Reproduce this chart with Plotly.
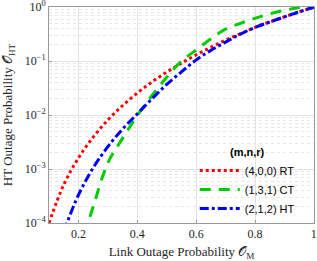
import plotly.graph_objects as go

# Data (x = link outage probability, y = HT outage probability)
rt_x = [0.1, 0.15, 0.2, 0.25, 0.3, 0.35, 0.4, 0.45, 0.5, 0.55, 0.6, 0.65, 0.7, 0.75, 0.8, 0.85, 0.9, 0.95, 1.0]
rt_y = [1e-4, 5.1e-4, 1.6e-3, 3.9e-3, 8.1e-3, 0.015, 0.0256, 0.041, 0.0625, 0.0915, 0.13, 0.18, 0.245, 0.32, 0.42, 0.53, 0.66, 0.815, 1.0]

ct_x = [0.22, 0.23, 0.25, 0.3, 0.35, 0.4, 0.45, 0.5, 0.55, 0.6, 0.65, 0.7, 0.75, 0.8, 0.85, 0.9, 0.95, 1.0]
ct_y = [6e-5, 9e-5, 2e-4, 1.3e-3, 3.7e-3, 0.0098, 0.023, 0.05, 0.1, 0.16, 0.26, 0.39, 0.5, 0.62, 0.75, 0.87, 0.98, 1.0]

ht_x = [0.15, 0.2, 0.25, 0.3, 0.35, 0.4, 0.45, 0.5, 0.55, 0.6, 0.65, 0.7, 0.75, 0.8, 0.85, 0.9, 0.95, 1.0]
ht_y = [7e-5, 3.3e-4, 1.05e-3, 2.6e-3, 5.5e-3, 0.0105, 0.02, 0.037, 0.063, 0.105, 0.158, 0.225, 0.315, 0.42, 0.53, 0.66, 0.815, 1.0]

series_names = ["(4,0,0) RT", "(1,3,1) CT", "(2,1,2) HT"]
x_ticks = [0.2, 0.4, 0.6, 0.8, 1]
x_tick_text = ["0.2", "0.4", "0.6", "0.8", "1"]
y_ticks = [1e-4, 1e-3, 1e-2, 1e-1, 1]
y_tick_text = ["10<sup>−4</sup>", "10<sup>−3</sup>", "10<sup>−2</sup>", "10<sup>−1</sup>", "10<sup>0</sup>"]

serif = "Liberation Serif, DejaVu Serif, serif"
sans = "Liberation Sans, Arial, sans-serif"

fig = go.Figure()
fig.add_trace(go.Scatter(x=rt_x, y=rt_y, mode="lines", name=series_names[0], cliponaxis=True,
                         line=dict(color="#ff0000", width=3, dash="dot", shape="spline")))
fig.add_trace(go.Scatter(x=ct_x, y=ct_y, mode="lines", name=series_names[1], cliponaxis=True,
                         line=dict(color="#00cc00", width=3, dash="11px,8px", shape="spline")))
fig.add_trace(go.Scatter(x=ht_x, y=ht_y, mode="lines", name=series_names[2], cliponaxis=True,
                         line=dict(color="#0000ff", width=3, dash="dashdot", shape="spline")))

fig.update_layout(
    width=317, height=261,
    margin=dict(l=49, r=3, t=7, b=38),
    paper_bgcolor="white", plot_bgcolor="white",
    font=dict(family=serif, size=12, color="#262626"),
    legend=dict(
        x=0.55, y=0.376, xanchor="left", yanchor="top",
        bgcolor="rgba(0,0,0,0)", borderwidth=0,
        title=dict(text="<b>(m,n,r)</b>", side="top center",
                   font=dict(family=sans, size=11, color="#000")),
        font=dict(family=sans, size=11, color="#000"),
        tracegroupgap=0, itemwidth=40,
    ),
    xaxis=dict(
        range=[0.1, 1.0005], tickvals=x_ticks, ticktext=x_tick_text, automargin=False,
        showgrid=True, gridcolor="#e3e3e3", gridwidth=1,
        showline=True, linecolor="#9a9a9a", linewidth=1, mirror=True,
        ticks="inside", ticklen=3, tickcolor="#9a9a9a",
        zeroline=False, ticklabeloverflow="allow",
        title=dict(text="Link Outage Probability 𝒪<sub>M</sub>", font=dict(family=serif, size=13, color="#262626")),
        tickfont=dict(family=serif, size=12, color="#262626"),
    ),
    yaxis=dict(
        type="log", range=[-4, 0.002], tickvals=y_ticks, ticktext=y_tick_text, automargin=False,
        showgrid=True, gridcolor="#e3e3e3", gridwidth=1,
        minor=dict(showgrid=True, gridcolor="#e6e6e6", griddash="dot", gridwidth=1,
                   dtick="D1", ticks=""),
        showline=True, linecolor="#9a9a9a", linewidth=1, mirror=True,
        ticks="inside", ticklen=3, tickcolor="#9a9a9a",
        zeroline=False, ticklabeloverflow="allow",
        title=dict(text="HT Outage Probability 𝒪<sub>HT</sub>", font=dict(family=serif, size=13, color="#262626")),
        tickfont=dict(family=serif, size=12, color="#262626"),
    ),
)

fig.write_html(
    "out.html",
    config={"displayModeBar": False},
    post_script="document.body.style.margin='0';document.body.style.padding='0';document.body.style.overflow='hidden';",
)
